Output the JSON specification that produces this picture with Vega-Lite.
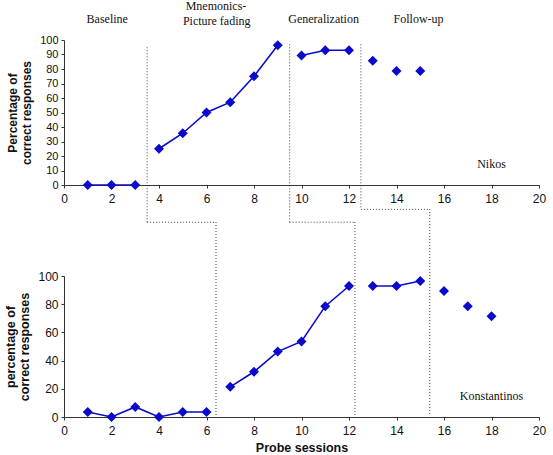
{
  "$schema": "https://vega.github.io/schema/vega-lite/v6.json",
  "padding": {"left": 4, "top": 0, "right": 5, "bottom": 0},
  "bounds": "flush",
  "spacing": 91,
  "config": {
    "view": {"stroke": null},
    "axis": {
      "grid": false,
      "domainColor": "#333333",
      "tickColor": "#333333",
      "labelColor": "#111111",
      "titleColor": "#111111",
      "labelFont": "Liberation Sans",
      "titleFont": "Liberation Sans",
      "titleFontWeight": "bold",
      "tickSize": 3,
      "labelPadding": 4,
      "labelFlush": false,
      "labelOverlap": false,
      "labelBound": false
    }
  },
  "datasets": {
    "nikos": [
      {"s": 1, "v": 0, "phase": "Baseline"},
      {"s": 2, "v": 0, "phase": "Baseline"},
      {"s": 3, "v": 0, "phase": "Baseline"},
      {"s": 4, "v": 25, "phase": "Mnemonics"},
      {"s": 5, "v": 35.7, "phase": "Mnemonics"},
      {"s": 6, "v": 50, "phase": "Mnemonics"},
      {"s": 7, "v": 57.1, "phase": "Mnemonics"},
      {"s": 8, "v": 75, "phase": "Mnemonics"},
      {"s": 9, "v": 96.4, "phase": "Mnemonics"},
      {"s": 10, "v": 89.3, "phase": "Generalization"},
      {"s": 11, "v": 92.9, "phase": "Generalization"},
      {"s": 12, "v": 92.9, "phase": "Generalization"},
      {"s": 13, "v": 85.7, "phase": "Follow-up"},
      {"s": 14, "v": 78.6, "phase": "Follow-up"},
      {"s": 15, "v": 78.6, "phase": "Follow-up"}
    ],
    "konstantinos": [
      {"s": 1, "v": 3.57, "phase": "Baseline"},
      {"s": 2, "v": 0, "phase": "Baseline"},
      {"s": 3, "v": 7.14, "phase": "Baseline"},
      {"s": 4, "v": 0, "phase": "Baseline"},
      {"s": 5, "v": 3.57, "phase": "Baseline"},
      {"s": 6, "v": 3.57, "phase": "Baseline"},
      {"s": 7, "v": 21.4, "phase": "Mnemonics"},
      {"s": 8, "v": 32.1, "phase": "Mnemonics"},
      {"s": 9, "v": 46.4, "phase": "Mnemonics"},
      {"s": 10, "v": 53.6, "phase": "Mnemonics"},
      {"s": 11, "v": 78.6, "phase": "Mnemonics"},
      {"s": 12, "v": 92.9, "phase": "Mnemonics"},
      {"s": 13, "v": 92.9, "phase": "Generalization"},
      {"s": 14, "v": 92.9, "phase": "Generalization"},
      {"s": 15, "v": 96.4, "phase": "Generalization"},
      {"s": 16, "v": 89.3, "phase": "Follow-up"},
      {"s": 17, "v": 78.6, "phase": "Follow-up"},
      {"s": 18, "v": 71.4, "phase": "Follow-up"}
    ],
    "topSegments": [
      {"x": 3.5, "x2": 3.5, "y": 95, "y2": -25.7},
      {"x": 3.5, "x2": 6.4, "y": -25.7, "y2": -25.7},
      {"x": 9.5, "x2": 9.5, "y": 97, "y2": -25.7},
      {"x": 9.5, "x2": 12.25, "y": -25.7, "y2": -25.7},
      {"x": 12.5, "x2": 12.5, "y": 97, "y2": -16.8},
      {"x": 12.5, "x2": 15.4, "y": -16.8, "y2": -16.8}
    ],
    "bottomSegments": [
      {"x": 6.4, "x2": 6.4, "y": 138.3, "y2": 1},
      {"x": 12.25, "x2": 12.25, "y": 138.3, "y2": 1},
      {"x": 15.4, "x2": 15.4, "y": 147.5, "y2": 1}
    ],
    "topLabels": [
      {"x": 1.82, "y": 111.7, "label": "Baseline"},
      {"x": 6.4, "y": 120.5, "label": "Mnemonics-"},
      {"x": 6.43, "y": 110.3, "label": "Picture fading"},
      {"x": 10.93, "y": 111.7, "label": "Generalization"},
      {"x": 14.93, "y": 111.7, "label": "Follow-up"},
      {"x": 18.0, "y": 11.7, "label": "Nikos"}
    ],
    "bottomLabels": [
      {"x": 18.0, "y": 12, "label": "Konstantinos"}
    ]
  },
  "vconcat": [
    {
      "width": 475,
      "height": 145,
      "encoding": {
        "x": {"type": "quantitative", "scale": {"domain": [0, 20]}, "axis": {"values": [0, 2, 4, 6, 8, 10, 12, 14, 16, 18, 20], "title": null, "labelFontSize": 12, "labelPadding": 5, "labelOverlap": false, "labelFlush": false}},
        "y": {"type": "quantitative", "scale": {"domain": [0, 100]}, "axis": {"values": [0, 10, 20, 30, 40, 50, 60, 70, 80, 90, 100], "title": ["Percentage of", "correct  responses"], "labelFontSize": 11, "titleFontSize": 12, "titlePadding": 6, "labelPadding": 3, "labelOverlap": false, "labelFlush": false}}
      },
      "layer": [
        {
          "data": {"name": "topSegments"},
          "mark": {"type": "rule", "color": "#444444", "strokeWidth": 1, "strokeDash": [1, 2], "clip": false},
          "encoding": {
            "x": {"field": "x", "type": "quantitative"},
            "x2": {"field": "x2"},
            "y": {"field": "y", "type": "quantitative"},
            "y2": {"field": "y2"}
          }
        },
        {
          "data": {"name": "nikos"},
          "transform": [{"filter": "datum.phase !== 'Follow-up'"}],
          "mark": {"type": "line", "color": "#0A0ACC", "strokeWidth": 1.6},
          "encoding": {
            "x": {"field": "s", "type": "quantitative"},
            "y": {"field": "v", "type": "quantitative"},
            "detail": {"field": "phase"}
          }
        },
        {
          "data": {"name": "nikos"},
          "mark": {"type": "point", "shape": "diamond", "filled": true, "color": "#0A0ACC", "size": 100, "opacity": 1},
          "encoding": {
            "x": {"field": "s", "type": "quantitative"},
            "y": {"field": "v", "type": "quantitative"}
          }
        },
        {
          "data": {"name": "topLabels"},
          "mark": {"type": "text", "font": "Liberation Serif", "fontSize": 12, "color": "#111111", "align": "center", "baseline": "alphabetic", "clip": false},
          "encoding": {
            "x": {"field": "x", "type": "quantitative"},
            "y": {"field": "y", "type": "quantitative"},
            "text": {"field": "label"}
          }
        }
      ]
    },
    {
      "width": 475,
      "height": 141,
      "encoding": {
        "x": {"type": "quantitative", "scale": {"domain": [0, 20]}, "axis": {"values": [0, 2, 4, 6, 8, 10, 12, 14, 16, 18, 20], "title": "Probe sessions", "titleFontSize": 12.5, "labelFontSize": 12, "labelPadding": 5, "titlePadding": 5, "labelOverlap": false, "labelFlush": false}},
        "y": {"type": "quantitative", "scale": {"domain": [0, 100]}, "axis": {"values": [0, 20, 40, 60, 80, 100], "title": ["percentage of", "correct responses"], "labelFontSize": 12, "titleFontSize": 12.5, "titlePadding": 6, "labelPadding": 3, "labelOverlap": false, "labelFlush": false}}
      },
      "layer": [
        {
          "data": {"name": "bottomSegments"},
          "mark": {"type": "rule", "color": "#444444", "strokeWidth": 1, "strokeDash": [1, 2], "clip": false},
          "encoding": {
            "x": {"field": "x", "type": "quantitative"},
            "x2": {"field": "x2"},
            "y": {"field": "y", "type": "quantitative"},
            "y2": {"field": "y2"}
          }
        },
        {
          "data": {"name": "konstantinos"},
          "transform": [{"filter": "datum.phase !== 'Follow-up'"}],
          "mark": {"type": "line", "color": "#0A0ACC", "strokeWidth": 1.6},
          "encoding": {
            "x": {"field": "s", "type": "quantitative"},
            "y": {"field": "v", "type": "quantitative"},
            "detail": {"field": "phase"}
          }
        },
        {
          "data": {"name": "konstantinos"},
          "mark": {"type": "point", "shape": "diamond", "filled": true, "color": "#0A0ACC", "size": 100, "opacity": 1},
          "encoding": {
            "x": {"field": "s", "type": "quantitative"},
            "y": {"field": "v", "type": "quantitative"}
          }
        },
        {
          "data": {"name": "bottomLabels"},
          "mark": {"type": "text", "font": "Liberation Serif", "fontSize": 12, "color": "#111111", "align": "center", "baseline": "alphabetic", "clip": false},
          "encoding": {
            "x": {"field": "x", "type": "quantitative"},
            "y": {"field": "y", "type": "quantitative"},
            "text": {"field": "label"}
          }
        }
      ]
    }
  ]
}
